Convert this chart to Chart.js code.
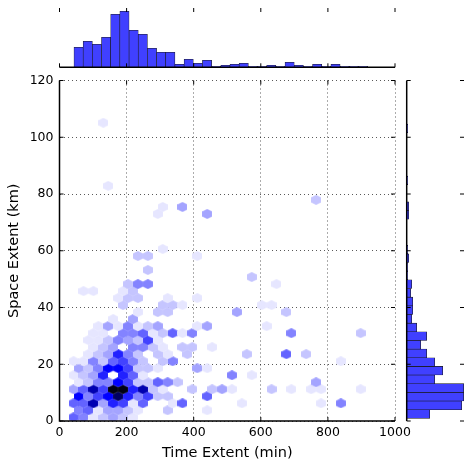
<!DOCTYPE html>
<html>
<head>
<meta charset="utf-8">
<script src="https://cdn.jsdelivr.net/npm/chart.js@4/dist/chart.umd.min.js"></script>
<style>
  html, body { margin: 0; padding: 0; background: #fff; }
  #wrap { position: relative; width: 472px; height: 468px; }
  canvas { position: absolute; left: 0; top: 0; }
</style>
</head>
<body>
<div id="wrap">
  <canvas id="main" width="472" height="468"></canvas>
  <canvas id="top" width="472" height="80"></canvas>
  <canvas id="right" width="472" height="468"></canvas>
</div>
<script>
// axis ticks
const xTicks = [0, 200, 400, 600, 800, 1000];
const yTicks = [0, 20, 40, 60, 80, 100, 120];

// top histogram: time extent (min)
const timeBinStart = 43.2;
const timeBinWidth = 27.35;
const timeCounts = [20, 26, 23, 30, 53, 56, 37, 33, 19, 15, 15, 3, 8, 4, 7, 1, 2, 3, 4, 1, 1, 2, 1, 5, 2, 1, 3, 1, 3, 1, 1, 1];

// right histogram: space extent (km)
const spaceBinStart = 0.95;
const spaceBinWidth = 3.05;
const spaceCounts = [23, 55, 57, 57, 28, 36, 28, 20, 14, 20, 10, 5, 6, 6, 4, 5, 1, 1, 2, 1, 0, 0, 0, 2, 2, 0, 0, 1, 0, 0, 0, 0, 0, 1];

// hexbin grid: odd rows are shifted by half a column
const hexX0 = 42.0, hexDX = 29.5;
const hexY0 = 1.31, hexDY = 2.471;
// one row per grid line (bottom to top), counts per column
const hexCounts = [
  [5,4,1,2,3,2,1],
  [4,5,1,3,3,2,1,0,0,2,0,0,0,1],
  [5,5,9,3,7,6,1,5,0,0,1,5,0,0,0,0,0,1,0,0,0,0,0,0,0,1,0,4],
  [8,4,6,8,10,7,4,6,2,2,0,0,0,5],
  [3,5,9,6,11,11,7,9,2,1,0,0,2,0,2,3,1,0,0,0,2,0,1,0,1,1,0,0,0,1],
  [1,2,4,4,8,6,2,2,5,4,2,0,0,0,0,0,0,0,0,0,0,0,0,0,3],
  [1,2,3,7,0,7,5,1,0,0,0,0,0,0,0,0,4,0,1],
  [3,2,4,8,8,6,2,2,1,0,0,0,3,1],
  [1,1,4,2,5,6,4,2,0,2,4,0,0,0,0,0,0,0,0,0,0,0,0,0,0,0,0,1],
  [0,1,2,3,7,4,2,0,2,1,0,2,0,0,0,0,0,2,0,0,0,5,0,2],
  [0,0,1,2,3,0,4,4,2,1,0,2,2,0,1],
  [0,1,1,2,4,3,2,6,1],
  [0,0,1,1,0,4,4,5,1,2,5,1,4,0,0,0,0,0,0,0,0,0,4,0,0,0,0,0,0,2],
  [0,0,1,3,1,4,1,2,3,0,0,0,1,3,0,0,0,0,0,1],
  [0,0,0,0,1,0,3],
  [0,0,0,0,0,0,1,0,2,2,0,0,0,0,0,0,3,0,0,0,0,2],
  [0,0,0,0,0,2,0,0,0,2,2,1,0,0,0,0,0,0,0,1,1],
  [0,0,0,0,1,2,2,0,0,1,0,0,1],
  [0,1,1,0,0,1,2],
  [0,0,0,0,0,2,4,4,0,0,0,0,0,0,0,0,0,0,0,0,1],
  [0,0,0,0,0,0,0,0,0,0,0,0,0,0,0,0,0,0,2],
  [0,0,0,0,0,0,0,2],
  [],
  [0,0,0,0,0,0,2,2,0,0,0,0,1],
  [0,0,0,0,0,0,0,0,0,1],
  [], [], [], [],
  [0,0,0,0,0,0,0,0,1,0,0,0,0,3],
  [0,0,0,0,0,0,0,0,0,1,0,3],
  [0,0,0,0,0,0,0,0,0,0,0,0,0,0,0,0,0,0,0,0,0,0,0,0,2],
  [],
  [0,0,0,1],
  [], [], [], [], [], [], [], [],
  [0,0,0,1]
];

Chart.defaults.font.family = "'DejaVu Sans', sans-serif";
Chart.defaults.color = '#000';

const barBlue = '#4040ff';

// white -> blue -> black ramp
function hexColor(n) {
  if (n <= 8) {
    const v = Math.round(230 * (1 - (n - 1) / 7));
    return 'rgb(' + v + ',' + v + ',255)';
  }
  return 'rgb(0,0,' + Math.round(255 - 235 * (n - 8) / 3) + ')';
}

const hexCache = {};
function hexImage(n) {
  if (hexCache[n]) return hexCache[n];
  const c = document.createElement('canvas');
  c.width = 10; c.height = 10;
  const g = c.getContext('2d');
  const hw = 4.95, h2 = 4.67, h4 = 2.34;
  g.beginPath();
  g.moveTo(5, 5 - h2);
  g.lineTo(5 + hw, 5 - h4);
  g.lineTo(5 + hw, 5 + h4);
  g.lineTo(5, 5 + h2);
  g.lineTo(5 - hw, 5 + h4);
  g.lineTo(5 - hw, 5 - h4);
  g.closePath();
  g.fillStyle = hexColor(n);
  g.strokeStyle = hexColor(n);
  g.lineWidth = 0.5;
  g.fill();
  g.stroke();
  hexCache[n] = c;
  return c;
}

const hexPoints = [];
hexCounts.forEach((row, j) => {
  row.forEach((n, i) => {
    if (!n) return;
    hexPoints.push({
      x: hexX0 + (i + (j % 2) * 0.5) * hexDX,
      y: hexY0 + j * hexDY,
      n: n
    });
  });
});

function line(ctx, x1, y1, x2, y2) {
  ctx.beginPath();
  ctx.moveTo(x1, y1);
  ctx.lineTo(x2, y2);
  ctx.stroke();
}

const mainFrame = {
  id: 'mainFrame',
  afterDraw(chart) {
    const {ctx, chartArea: a, scales: {x, y}} = chart;
    ctx.save();
    ctx.strokeStyle = '#000';
    ctx.lineWidth = 1;
    x.ticks.forEach(t => {
      const p = x.getPixelForValue(t.value);
      line(ctx, p, a.bottom, p, a.bottom - 4);
      line(ctx, p, a.top, p, a.top + 4);
    });
    y.ticks.forEach(t => {
      const p = y.getPixelForValue(t.value);
      line(ctx, a.left, p, a.left + 4, p);
      line(ctx, a.right, p, a.right - 4, p);
    });
    ctx.lineWidth = 1.5;
    ctx.beginPath();
    ctx.moveTo(a.left, a.top);
    ctx.lineTo(a.left, a.bottom);
    ctx.lineTo(a.right, a.bottom);
    ctx.stroke();
    ctx.restore();
  }
};

new Chart(document.getElementById('main'), {
  type: 'scatter',
  data: {
    datasets: [{
      data: hexPoints,
      pointStyle: c => hexImage(c.raw.n),
      clip: 0
    }]
  },
  options: {
    responsive: false,
    animation: false,
    events: [],
    layout: { padding: { left: 0, top: 80.5, right: 77, bottom: 0 } },
    plugins: { legend: { display: false }, tooltip: { enabled: false } },
    scales: {
      x: {
        type: 'linear', min: 0, max: 1000,
        afterFit: s => { s.height = 47; },
        afterBuildTicks: s => { s.ticks = xTicks.map(v => ({ value: v })); },
        ticks: { font: { size: 12.5 }, padding: 4, maxRotation: 0, callback: v => String(v) },
        grid: { color: 'rgba(0,0,0,0.65)', lineWidth: 1, drawTicks: false },
        border: { display: false, dash: [1, 3] },
        title: { display: true, text: 'Time Extent (min)', font: { size: 14.5 }, padding: { top: 0, bottom: 6 } }
      },
      y: {
        type: 'linear', min: 0, max: 120,
        afterFit: s => { s.width = 59.5; },
        afterBuildTicks: s => { s.ticks = yTicks.map(v => ({ value: v })); },
        ticks: { font: { size: 12.5 }, padding: 6, callback: v => String(v) },
        grid: { color: 'rgba(0,0,0,0.65)', lineWidth: 1, drawTicks: false },
        border: { display: false, dash: [1, 3] },
        title: { display: true, text: 'Space Extent (km)', font: { size: 14.5 }, padding: { top: 6, bottom: 0 } }
      }
    }
  },
  plugins: [mainFrame]
});

const topFrame = {
  id: 'topFrame',
  afterDraw(chart) {
    const {ctx, chartArea: a, scales: {x}} = chart;
    ctx.save();
    ctx.strokeStyle = '#000';
    ctx.lineWidth = 1;
    xTicks.forEach(v => {
      const p = x.getPixelForValue(v);
      line(ctx, p, a.top, p, a.top + 4);
      line(ctx, p, a.bottom, p, a.bottom - 4);
    });
    ctx.lineWidth = 1.5;
    line(ctx, a.left, a.bottom, a.right, a.bottom);
    ctx.restore();
  }
};

new Chart(document.getElementById('top'), {
  type: 'bar',
  data: {
    datasets: [{
      data: timeCounts.map((v, k) => ({ x: timeBinStart + (k + 0.5) * timeBinWidth, y: v })),
      backgroundColor: barBlue,
      borderColor: '#1a1a1a',
      borderWidth: 0.6,
      borderSkipped: false,
      barPercentage: 1,
      categoryPercentage: 1
    }]
  },
  options: {
    responsive: false,
    animation: false,
    events: [],
    layout: { padding: { left: 59.5, right: 77, top: 8, bottom: 12.7 } },
    plugins: { legend: { display: false }, tooltip: { enabled: false } },
    scales: {
      x: { type: 'linear', min: 0, max: 1000, offset: false, display: false },
      y: { min: 0, max: 59.3, display: false }
    }
  },
  plugins: [topFrame]
});

const rightFrame = {
  id: 'rightFrame',
  afterDraw(chart) {
    const {ctx, chartArea: a, scales: {y}} = chart;
    ctx.save();
    ctx.strokeStyle = '#000';
    ctx.lineWidth = 1;
    yTicks.forEach(v => {
      const p = y.getPixelForValue(v);
      line(ctx, a.left, p, a.left + 4, p);
      line(ctx, a.right, p, a.right - 4, p);
    });
    ctx.lineWidth = 1.5;
    line(ctx, a.left, a.top, a.left, a.bottom);
    ctx.restore();
  }
};

new Chart(document.getElementById('right'), {
  type: 'bar',
  data: {
    datasets: [{
      data: spaceCounts.map((v, k) => ({ y: spaceBinStart + (k + 0.5) * spaceBinWidth, x: v })),
      backgroundColor: barBlue,
      borderColor: '#1a1a1a',
      borderWidth: 0.6,
      borderSkipped: false,
      barPercentage: 1,
      categoryPercentage: 1
    }]
  },
  options: {
    indexAxis: 'y',
    responsive: false,
    animation: false,
    events: [],
    layout: { padding: { left: 406.7, right: 8, top: 80.5, bottom: 47 } },
    plugins: { legend: { display: false }, tooltip: { enabled: false } },
    scales: {
      y: { type: 'linear', min: 0, max: 120, offset: false, display: false },
      x: { min: 0, max: 57.3, display: false }
    }
  },
  plugins: [rightFrame]
});
</script>
</body>
</html>
